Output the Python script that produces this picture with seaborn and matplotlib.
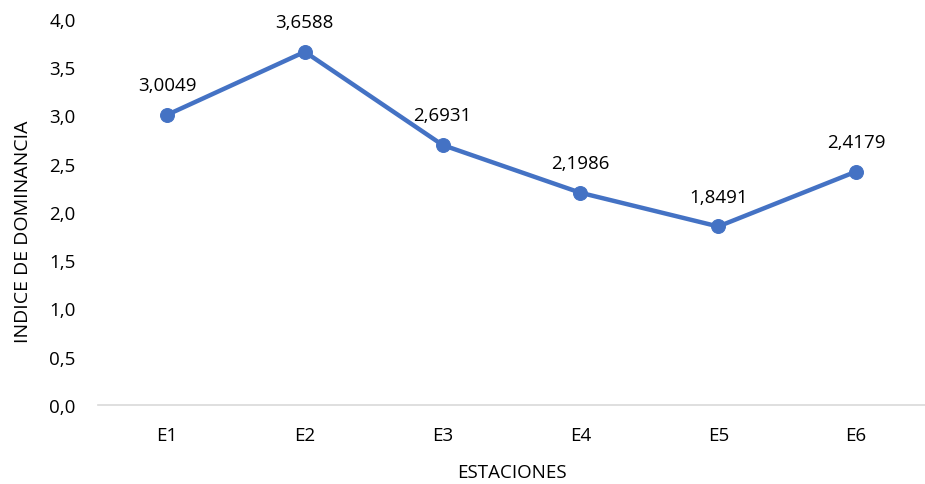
import matplotlib

matplotlib.use("Agg")

import matplotlib.pyplot as plt
import pandas as pd
import seaborn as sns

estaciones = ["E1", "E2", "E3", "E4", "E5", "E6"]
indice = [3.0049, 3.6588, 2.6931, 2.1986, 1.8491, 2.4179]
y_ticks = [0.0, 0.5, 1.0, 1.5, 2.0, 2.5, 3.0, 3.5, 4.0]

LINE_COLOR = "#4472C4"
TEXT_COLOR = "#000000"

sns.set_style("white")
plt.rcParams["font.family"] = ["Open Sans", "DejaVu Sans"]

df = pd.DataFrame({"estacion": estaciones, "indice": indice})

fig = plt.figure(figsize=(9.25, 4.85), dpi=100)
ax = fig.add_axes([0.106, 0.163, 0.894, 0.796])

sns.lineplot(data=df, x="estacion", y="indice", sort=False, color=LINE_COLOR,
             linewidth=3.2, marker="o", markersize=10, markeredgecolor=LINE_COLOR, ax=ax)

for i, v in enumerate(indice):
    label = f"{v:.4f}".replace(".", ",")
    ax.annotate(label, (i, v), xytext=(0, 15), textcoords="offset points",
                ha="center", va="bottom", fontsize=13.5, color=TEXT_COLOR)

ax.set_xlim(-0.5, len(estaciones) - 0.5)
ax.set_ylim(0, 4)
ax.set_yticks(y_ticks)
ax.set_yticklabels([f"{t:.1f}".replace(".", ",") for t in y_ticks])
ax.tick_params(axis="both", labelsize=13.5, colors=TEXT_COLOR, length=0)
ax.tick_params(axis="y", pad=16)
ax.tick_params(axis="x", pad=15)

for side in ["top", "right", "left"]:
    ax.spines[side].set_visible(False)
ax.spines["bottom"].set_color("#D9D9D9")
ax.spines["bottom"].set_linewidth(1.2)

ax.set_xlabel("ESTACIONES", fontsize=13.5, color=TEXT_COLOR, labelpad=14)
ax.set_ylabel("INDICE DE DOMINANCIA", fontsize=14, color=TEXT_COLOR)
ax.yaxis.set_label_coords(-0.08, 0.45)

fig.savefig("out.png", dpi=100)
plt.close(fig)
